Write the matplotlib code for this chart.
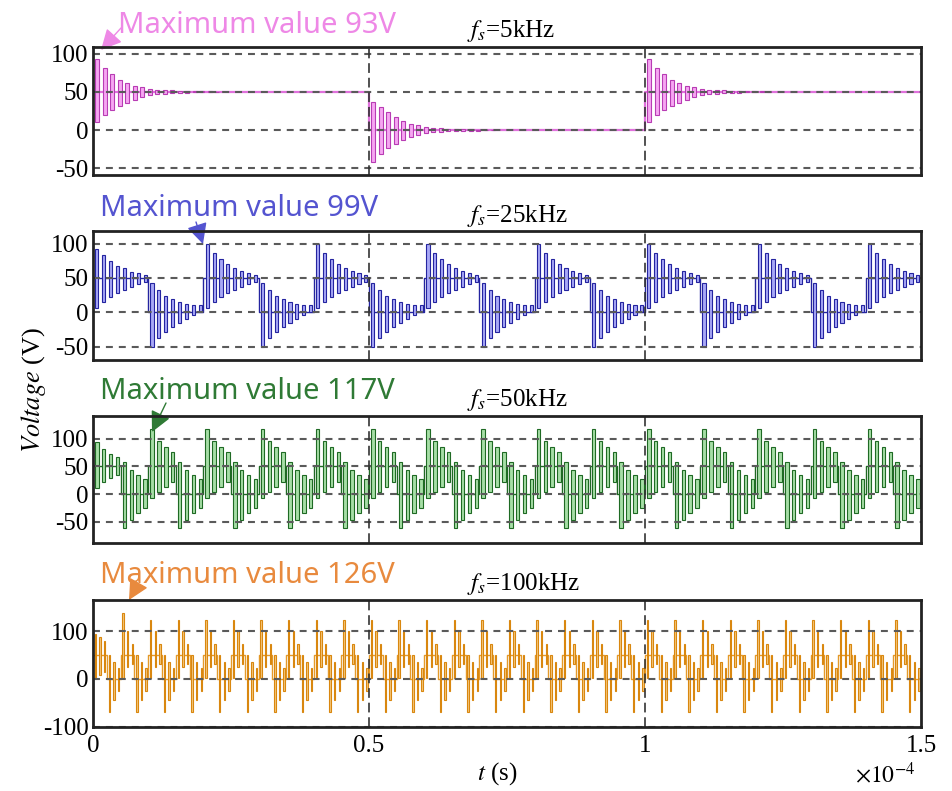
import numpy as np
import matplotlib
matplotlib.use('Agg')
import matplotlib.pyplot as plt

plt.rcParams['font.family'] = ['Liberation Serif', 'DejaVu Serif']
plt.rcParams['mathtext.fontset'] = 'stix'
plt.rcParams['axes.unicode_minus'] = False
plt.rcParams['lines.scale_dashes'] = False

W, H = 953, 791
T_END = 1.5e-4
X_TICKS = [0, 0.5e-4, 1.0e-4, 1.5e-4]
X_TICK_LABELS = ['0', '0.5', '1', '1.5']
UP_LEVEL, DOWN_LEVEL = 50, 0

# ---------------- Panel 1 : fs = 5 kHz ----------------
p1_title = r'$f_s$=5kHz'
p1_note = 'Maximum value 93V'
p1_interval, p1_events, p1_ring = 0.5e-4, 3, 1.36e-6
p1_up_tops = [93, 81, 73, 66, 62, 58, 56, 54, 53, 52.3, 51.8, 51.4, 51.1, 50.9, 50.7, 50.5, 50.3]
p1_up_bottoms = [11, 20, 26, 31, 35, 39, 43, 46, 47, 47.8, 48.3, 48.7, 49, 49.2, 49.4, 49.6, 49.7]
p1_down_tops = [37, 30, 23, 17, 12, 8, 6, 4, 3, 2.3, 1.8, 1.4, 1.1, 0.9, 0.7, 0.5, 0.3]
p1_down_bottoms = [-42, -31, -24, -18, -13, -9, -6, -4, -3, -2.3, -1.8, -1.4, -1.1, -0.9, -0.7, -0.5, -0.3]
p1_yticks = [-50, 0, 50, 100]
p1_ylim = (-58.7, 108.6)

# ---------------- Panel 2 : fs = 25 kHz ----------------
p2_title = r'$f_s$=25kHz'
p2_note = 'Maximum value 99V'
p2_interval, p2_events, p2_ring = 1.0e-5, 15, 1.25e-6
p2_first_tops = [92, 83, 75, 68, 64, 59, 57, 55]
p2_first_bottoms = [6, 15, 22, 28, 32, 37, 41, 44]
p2_up_tops = [99, 86, 77, 70, 64, 60, 57, 55]
p2_up_bottoms = [6, 15, 22, 28, 33, 37, 41, 44]
p2_down_tops = [42, 32, 24, 19, 15, 12, 11, 10]
p2_down_bottoms = [-50, -37, -29, -22, -15, -9, -4, 0]
p2_yticks = [-50, 0, 50, 100]
p2_ylim = (-69.3, 118.3)

# ---------------- Panel 3 : fs = 50 kHz ----------------
p3_title = r'$f_s$=50kHz'
p3_note = 'Maximum value 117V'
p3_interval, p3_events, p3_ring = 0.5e-5, 30, 1.25e-6
p3_first_tops = [93, 82, 73, 67]
p3_first_bottoms = [11, 22, 29, 34]
p3_up_tops = [117, 96, 85, 76]
p3_up_bottoms = [-7, 4, 13, 22]
p3_down_tops = [58, 43, 34, 27]
p3_down_bottoms = [-62, -46, -34, -25]
p3_yticks = [-50, 0, 50, 100]
p3_ylim = (-88.3, 140.6)

# ---------------- Panel 4 : fs = 100 kHz ----------------
p4_title = r'$f_s$=100kHz'
p4_note = 'Maximum value 126V'
p4_interval, p4_events, p4_ring = 0.25e-5, 60, 0.83e-6
p4_first_tops = [93, 88, 80]
p4_first_bottoms = [0, 8, 15]
p4_peak_tops = [138, 100, 72]
p4_peak_bottoms = [2, 25, 32]
p4_up_tops = [123, 100, 72]
p4_up_bottoms = [2, 25, 32]
p4_down_tops = [50, 35, 22]
p4_down_bottoms = [-70, -45, -25]
p4_yticks = [-100, 0, 100]
p4_ylim = (-101, 165)

panels = [
    dict(rect=(93, 47, 175), ylim=p1_ylim, yticks=p1_yticks, interval=p1_interval,
         n=p1_events, ring=p1_ring,
         kinds={'up': (p1_up_tops, p1_up_bottoms), 'down': (p1_down_tops, p1_down_bottoms)},
         overrides={}, face='#f6a6f2', edge='#b83cb4', line='#e070dc', wfrac=0.5,
         title=p1_title, title_xy=(467, 37), note=p1_note, note_xy=(118, 33),
         note_color='#ee88e6', arrow=((121, 28), (101, 50))),
    dict(rect=(93, 231, 360), ylim=p2_ylim, yticks=p2_yticks, interval=p2_interval,
         n=p2_events, ring=p2_ring,
         kinds={'up': (p2_up_tops, p2_up_bottoms), 'down': (p2_down_tops, p2_down_bottoms)},
         overrides={0: (p2_first_tops, p2_first_bottoms)},
         face='#a8a8f6', edge='#2424a0', line='#2424a0', wfrac=0.45,
         title=p2_title, title_xy=(467, 222), note=p2_note, note_xy=(100, 216),
         note_color='#5454d0', arrow=((196, 222), (203, 244))),
    dict(rect=(93, 416, 543), ylim=p3_ylim, yticks=p3_yticks, interval=p3_interval,
         n=p3_events, ring=p3_ring,
         kinds={'up': (p3_up_tops, p3_up_bottoms), 'down': (p3_down_tops, p3_down_bottoms)},
         overrides={0: (p3_first_tops, p3_first_bottoms)},
         face='#a6dea6', edge='#1f6a24', line='#1f6a24', wfrac=0.5,
         title=p3_title, title_xy=(467, 406), note=p3_note, note_xy=(100, 399),
         note_color='#2f7a35', arrow=((166, 403), (152, 432))),
    dict(rect=(93, 600, 727), ylim=p4_ylim, yticks=p4_yticks, interval=p4_interval,
         n=p4_events, ring=p4_ring,
         kinds={'up': (p4_up_tops, p4_up_bottoms), 'down': (p4_down_tops, p4_down_bottoms)},
         overrides={0: (p4_first_tops, p4_first_bottoms), 2: (p4_peak_tops, p4_peak_bottoms)},
         face='#f4c77a', edge='#d9870f', line='#e49a2a', wfrac=0.3,
         title=p4_title, title_xy=(467, 590), note=p4_note, note_xy=(100, 583),
         note_color='#e88a3e', arrow=((137, 586), (129, 600))),
]

fig = plt.figure(figsize=(W / 100, H / 100), dpi=100)

for idx, p in enumerate(panels):
    x0, ytop, ybot = p['rect']
    ax = fig.add_axes([x0 / W, 1 - ybot / H, (921 - x0) / W, (ybot - ytop) / H])
    ax.set_axisbelow(False)

    times, tops, bots, ev_t, ev_lvl = [], [], [], [], []
    for i in range(p['n']):
        kind = 'up' if i % 2 == 0 else 'down'
        t0 = i * p['interval']
        tp, bt = p['overrides'].get(i, p['kinds'][kind])
        for k, (a, b) in enumerate(zip(tp, bt)):
            times.append(t0 + (k + 0.55) * p['ring'])
            tops.append(a)
            bots.append(b)
        ev_t.append(t0)
        ev_lvl.append(UP_LEVEL if kind == 'up' else DOWN_LEVEL)
    tops = np.array(tops, dtype=float)
    bots = np.array(bots, dtype=float)

    ax.step(ev_t + [T_END], ev_lvl + [ev_lvl[-1]], where='post',
            color=p['line'], lw=1.6 if idx == 0 else 1.0, zorder=1.5)
    ax.bar(times, tops - bots, bottom=bots, width=p['wfrac'] * p['ring'],
           color=p['face'], edgecolor=p['edge'], linewidth=0.8, zorder=2)

    ax.set_xlim(0, T_END)
    ax.set_ylim(*p['ylim'])
    ax.set_yticks(p['yticks'])
    ax.set_yticklabels([str(v) for v in p['yticks']])
    ax.set_xticks(X_TICKS)
    if idx == 3:
        ax.set_xticklabels(X_TICK_LABELS)
    else:
        ax.set_xticklabels([])
    ax.tick_params(axis='both', length=0, labelsize=18, pad=3)
    ax.tick_params(axis='x', pad=6)

    for yv in p['yticks']:
        ax.axhline(yv, color='#5a5a5a', lw=1.5, dashes=(5, 4.3), zorder=3)
    for xv in [0.5e-4, 1.0e-4]:
        ax.axvline(xv, color='#333333', lw=1.2, dashes=(7, 3.5), zorder=3)

    for s in ax.spines.values():
        s.set_linewidth(2.0)
        s.set_color('#222222')
        s.set_zorder(4)

    tx, ty = p['title_xy']
    fig.text(tx / W, 1 - ty / H, p['title'], fontsize=18, ha='left', va='baseline')
    nx, ny = p['note_xy']
    fig.text(nx / W, 1 - ny / H, p['note'], fontsize=21, color=p['note_color'],
             family=['Noto Sans', 'DejaVu Sans'], ha='left', va='baseline')
    (ax0, ay0), (ax1, ay1) = p['arrow']
    ax.annotate('', xy=(ax1, H - ay1), xycoords='figure pixels',
                xytext=(ax0, H - ay0), textcoords='figure pixels',
                arrowprops=dict(arrowstyle='-|>,head_length=0.9,head_width=0.45',
                                color=p['note_color'], lw=1.0, shrinkA=0, shrinkB=0,
                                mutation_scale=14),
                annotation_clip=False)

fig.text(34 / W, 1 - 390 / H, r'$\mathit{Voltage}$ (V)', fontsize=19, rotation=90,
         ha='center', va='center')
fig.text(497 / W, 1 - 780 / H, r'$\mathit{t}$ (s)', fontsize=18, ha='center', va='baseline')
fig.text(855 / W, 1 - 783 / H, r'$\times10^{-4}$', fontsize=17, ha='left', va='baseline')

fig.savefig('out.png', dpi=100)
